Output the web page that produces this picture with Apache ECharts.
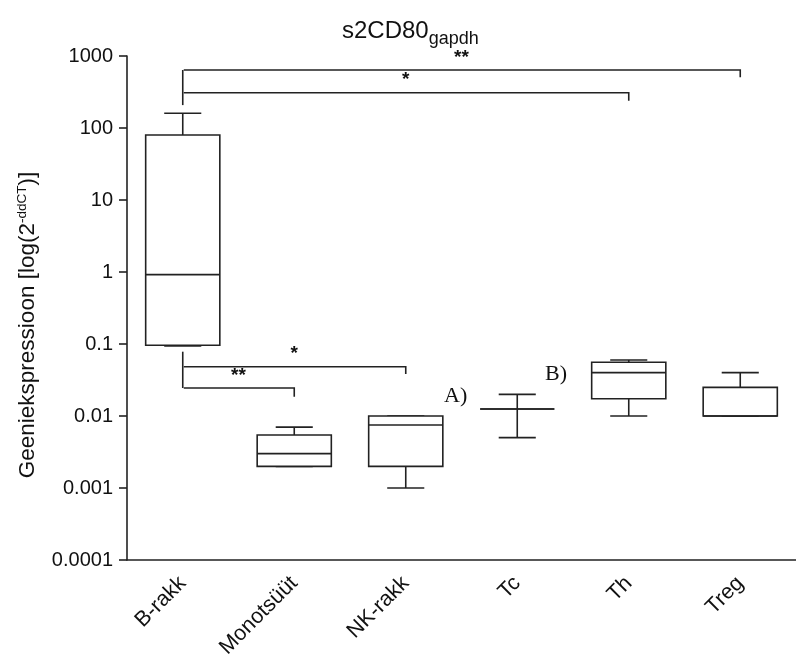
<!DOCTYPE html>
<html>
<head>
<meta charset="utf-8">
<script src="https://cdn.jsdelivr.net/npm/echarts@6/dist/echarts.min.js"></script>
<style>html,body{margin:0;padding:0;background:#fff;}#chart{width:796px;height:662px;}</style>
</head>
<body>
<div id="chart"></div>
<script>
// ---- data ----
const categories = ['B-rakk', 'Monotsüüt', 'NK-rakk', 'Tc', 'Th', 'Treg'];
const minVals    = [0.094, 0.002, 0.001, 0.005, 0.01, 0.01];
const q1Vals     = [0.096, 0.002, 0.002, 0.0125, 0.0174, 0.01];
const medianVals = [0.92, 0.003, 0.0075, 0.0125, 0.04, 0.01];
const q3Vals     = [80, 0.00545, 0.01, 0.0125, 0.0557, 0.025];
const maxVals    = [160, 0.007, 0.01, 0.02, 0.06, 0.04];
const yTickLabels = ['0.0001', '0.001', '0.01', '0.1', '1', '10', '100', '1000'];
// significance comparisons: from category, to category, label
const compFrom   = ['B-rakk', 'B-rakk', 'B-rakk', 'B-rakk'];
const compTo     = ['Treg', 'Th', 'NK-rakk', 'Monotsüüt'];
const compLabels = ['**', '*', '*', '**'];
const noteLabels = ['A)', 'B)'];

// ---- build ----
const FONT = 'Liberation Sans, Arial, sans-serif';
const SERIF = 'Liberation Serif, Times New Roman, serif';
const INK = '#222';
const boxData = categories.map((c, i) => [i, minVals[i], q1Vals[i], medianVals[i], q3Vals[i], maxVals[i]]);

// bracket geometry in axis value units
const bracketGeom = [
  {y: 639, drop: 506, stemTop: 639, stemBottom: 208},
  {y: 309, drop: 239, stemTop: null, stemBottom: null},
  {y: 0.0484, drop: 0.0383, stemTop: 0.0782, stemBottom: 0.0245},
  {y: 0.0245, drop: 0.0185, stemTop: null, stemBottom: null}
];
const bracketData = compFrom.map((f, i) => [categories.indexOf(f), categories.indexOf(compTo[i]), bracketGeom[i].y, bracketGeom[i].drop, i]);

const chart = echarts.init(document.getElementById('chart'), null, {renderer: 'canvas'});
const option = {
  animation: false,
  backgroundColor: '#fff',
  title: {
    text: 's2CD80{sub|gapdh}',
    left: 337, top: 9,
    textStyle: {
      fontFamily: FONT, fontSize: 24, fontWeight: 'normal', color: '#111',
      rich: {sub: {fontFamily: FONT, fontSize: 18, color: '#111', verticalAlign: 'bottom', padding: [16, 0, 0, 0]}}
    }
  },
  grid: {left: 127, top: 56, width: 678, height: 504},
  xAxis: {
    type: 'category',
    data: categories,
    boundaryGap: true,
    axisLine: {lineStyle: {color: INK, width: 1.6}},
    axisTick: {alignWithLabel: true, length: 8, lineStyle: {color: INK, width: 1.6}},
    axisLabel: {rotate: 45, margin: 20, fontFamily: FONT, fontSize: 21.5, color: '#111'},
    splitLine: {show: false}
  },
  yAxis: {
    type: 'log',
    logBase: 10,
    min: 0.0001, max: 1000,
    axisLine: {show: true, lineStyle: {color: INK, width: 1.6}},
    axisTick: {show: true, length: 8, lineStyle: {color: INK, width: 1.6}},
    axisLabel: {
      margin: 14, fontFamily: FONT, fontSize: 20, color: '#111',
      formatter: function (v) {
        const k = Math.round(Math.log10(v)) + 4;
        return yTickLabels[k] !== undefined ? yTickLabels[k] : '';
      }
    },
    splitLine: {show: false},
    minorTick: {show: false}
  },
  series: [
    {
      type: 'custom',
      name: 'box',
      data: boxData,
      encode: {x: 0, y: [1, 2, 3, 4, 5]},
      renderItem: function (params, api) {
        const idx = api.value(0);
        const cx = api.coord([idx, api.value(3)])[0];
        const band = api.size([1, 0])[0];
        const bw = band * 0.665, cw = bw / 2;
        const yMin = api.coord([idx, api.value(1)])[1];
        const yQ1 = api.coord([idx, api.value(2)])[1];
        const yMed = api.coord([idx, api.value(3)])[1];
        const yQ3 = api.coord([idx, api.value(4)])[1];
        const yMax = api.coord([idx, api.value(5)])[1];
        const st = {stroke: INK, lineWidth: 1.6, fill: null};
        return {
          type: 'group',
          children: [
            {type: 'line', shape: {x1: cx, y1: yQ3, x2: cx, y2: yMax}, style: st},
            {type: 'line', shape: {x1: cx - cw / 2, y1: yMax, x2: cx + cw / 2, y2: yMax}, style: st},
            {type: 'line', shape: {x1: cx, y1: yQ1, x2: cx, y2: yMin}, style: st},
            {type: 'line', shape: {x1: cx - cw / 2, y1: yMin, x2: cx + cw / 2, y2: yMin}, style: st},
            {type: 'rect', shape: {x: cx - bw / 2, y: yQ3, width: bw, height: yQ1 - yQ3}, style: {stroke: INK, lineWidth: 1.6, fill: '#fff'}},
            {type: 'line', shape: {x1: cx - bw / 2, y1: yMed, x2: cx + bw / 2, y2: yMed}, style: st}
          ]
        };
      }
    },
    {
      type: 'custom',
      name: 'brackets',
      data: bracketData,
      encode: {x: [0, 1], y: [2, 3]},
      renderItem: function (params, api) {
        const i = api.value(4);
        const g = bracketGeom[i];
        const x0 = api.coord([api.value(0), g.y])[0];
        const x1 = api.coord([api.value(1), g.y])[0];
        const y = api.coord([api.value(0), g.y])[1];
        const yd = api.coord([api.value(0), g.drop])[1];
        const st = {stroke: INK, lineWidth: 1.6, fill: null};
        const ch = [
          {type: 'polyline', shape: {points: [[x0 + 1, y], [x1, y], [x1, yd]]}, style: st},
          {type: 'text', x: (x0 + x1) / 2, y: y - 3, style: {text: compLabels[i], fontFamily: FONT, fontSize: 19, fontWeight: 'bold', fill: '#111', align: 'center', verticalAlign: 'bottom'}}
        ];
        if (g.stemTop !== null) {
          ch.push({type: 'line', shape: {x1: x0, y1: api.coord([0, g.stemTop])[1], x2: x0, y2: api.coord([0, g.stemBottom])[1]}, style: st});
        }
        return {type: 'group', children: ch};
      }
    }
  ],
  graphic: [
    {
      type: 'text', x: 28, y: 325, rotation: Math.PI / 2,
      style: {
        text: 'Geeniekspressioon [log(2{sup|-ddCT})]',
        fontFamily: FONT, fontSize: 22.5, fill: '#111', align: 'center', verticalAlign: 'middle',
        rich: {sup: {fontFamily: FONT, fontSize: 13.5, fill: '#111', verticalAlign: 'top', padding: [0, 0, 12, 0]}}
      }
    },
    {type: 'text', x: 444, y: 385, style: {text: noteLabels[0], fontFamily: SERIF, fontSize: 22, fill: '#111'}},
    {type: 'text', x: 545, y: 363, style: {text: noteLabels[1], fontFamily: SERIF, fontSize: 22, fill: '#111'}}
  ]
};
chart.setOption(option);
</script>
</body>
</html>
